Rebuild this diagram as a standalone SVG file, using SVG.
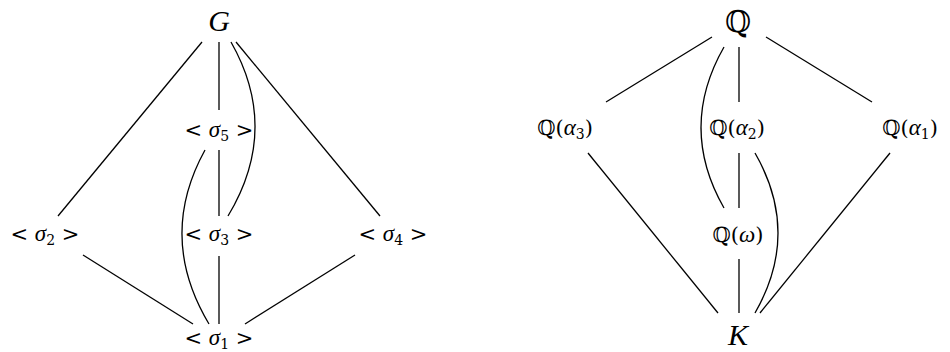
<svg xmlns="http://www.w3.org/2000/svg" width="950" height="352" viewBox="0 0 950 352">
<style>
.e{stroke:#000;stroke-width:1.3;fill:none}
text{font-family:"DejaVu Serif","Liberation Serif",serif;fill:#000;text-anchor:middle}
.lbl{font-size:21px}
.big{font-size:30px}
.it{font-family:"Liberation Serif","DejaVu Serif",serif;font-style:italic}
.gk{font-size:23px}
.sub{font-size:14px}
</style>
<rect width="950" height="352" fill="#fff"/>
<g id="connectors">
<line class="e" x1="202" y1="42" x2="58" y2="216"/>
<line class="e" x1="219" y1="42" x2="219" y2="110"/>
<line class="e" x1="219" y1="150" x2="219" y2="216"/>
<line class="e" x1="219" y1="256" x2="219" y2="324"/>
<path class="e" d="M231,42 Q280.5,129 228,216"/>
<line class="e" x1="236" y1="42" x2="380" y2="216"/>
<path class="e" d="M205,150 Q157,237 209,324"/>
<line class="e" x1="83" y1="255" x2="193" y2="324"/>
<line class="e" x1="355" y1="255" x2="245" y2="324"/>
<line class="e" x1="712" y1="37" x2="606" y2="102"/>
<line class="e" x1="739" y1="47" x2="739" y2="102"/>
<line class="e" x1="739" y1="153" x2="739" y2="208"/>
<line class="e" x1="739" y1="259" x2="739" y2="313"/>
<line class="e" x1="766" y1="37" x2="872" y2="102"/>
<path class="e" d="M724,47 Q678,127.5 724,208"/>
<path class="e" d="M755,153 Q801,233 755,313"/>
<line class="e" x1="588" y1="153" x2="718" y2="313"/>
<line class="e" x1="890" y1="153" x2="760" y2="313"/>
</g>
<g id="G"><text class="big it" x="219" y="31">G</text></g>
<g id="s5"><text class="lbl" x="219" y="137">&lt; <tspan class="it gk">σ</tspan><tspan class="sub" dy="4">5</tspan><tspan dy="-4"> &gt;</tspan></text></g>
<g id="s2"><text class="lbl" x="45" y="241">&lt; <tspan class="it gk">σ</tspan><tspan class="sub" dy="4">2</tspan><tspan dy="-4"> &gt;</tspan></text></g>
<g id="s3"><text class="lbl" x="219" y="241">&lt; <tspan class="it gk">σ</tspan><tspan class="sub" dy="4">3</tspan><tspan dy="-4"> &gt;</tspan></text></g>
<g id="s4"><text class="lbl" x="393" y="241">&lt; <tspan class="it gk">σ</tspan><tspan class="sub" dy="4">4</tspan><tspan dy="-4"> &gt;</tspan></text></g>
<g id="s1"><text class="lbl" x="219" y="345">&lt; <tspan class="it gk">σ</tspan><tspan class="sub" dy="4">1</tspan><tspan dy="-4"> &gt;</tspan></text></g>
<g id="Q"><text class="big" x="738" y="32">ℚ</text></g>
<g id="Qa3"><text class="lbl" x="565" y="135">ℚ(<tspan class="it gk">α</tspan><tspan class="sub" dy="4">3</tspan><tspan dy="-4">)</tspan></text></g>
<g id="Qa2"><text class="lbl" x="737" y="135">ℚ(<tspan class="it gk">α</tspan><tspan class="sub" dy="4">2</tspan><tspan dy="-4">)</tspan></text></g>
<g id="Qa1"><text class="lbl" x="910" y="135">ℚ(<tspan class="it gk">α</tspan><tspan class="sub" dy="4">1</tspan><tspan dy="-4">)</tspan></text></g>
<g id="Qw"><text class="lbl" x="738" y="242">ℚ(<tspan class="it gk">ω</tspan>)</text></g>
<g id="K"><text class="big it" x="738" y="345">K</text></g>
</svg>
